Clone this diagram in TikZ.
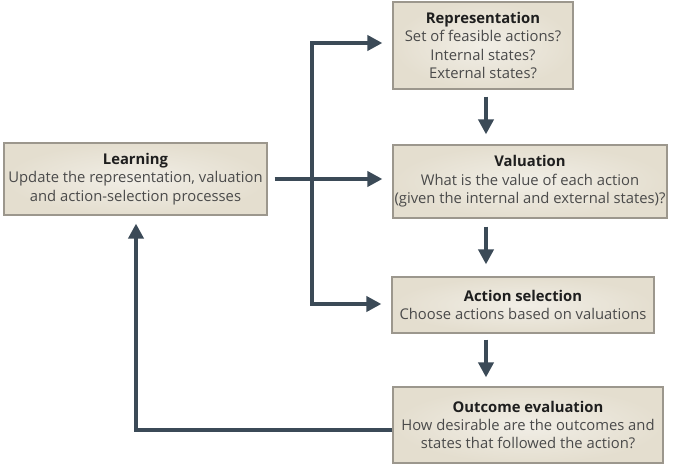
\documentclass[tikz,border=0pt]{standalone}
\usepackage{fontspec}
\setmainfont{Open Sans}
\usetikzlibrary{arrows.meta}
\definecolor{boxfill}{HTML}{E4DECF}
\definecolor{boxlight}{HTML}{F1EEE6}
\definecolor{boxdraw}{HTML}{9C978D}
\definecolor{arrowc}{HTML}{3B4A57}
\definecolor{txt}{HTML}{4A4A4A}
\definecolor{ttl}{HTML}{1E1E1E}
\newcommand{\btitle}[1]{{\bfseries\color{ttl}#1}}
\begin{document}
\begin{tikzpicture}[x=1pt,y=-1pt,
  box/.style={draw=boxdraw, line width=1.2pt, inner color=boxlight, outer color=boxfill,
    align=center, font=\fontsize{14.8}{18.4}\selectfont, text=txt, inner sep=0pt},
  arr/.style={draw=arrowc, line width=4pt, line join=miter,
    -{Triangle[length=15pt,width=15pt]}},
  arrb/.style={draw=arrowc, line width=4pt, line join=miter,
    {Triangle[length=15pt,width=15pt]}-{Triangle[length=15pt,width=15pt]}}]
\useasboundingbox (0,0) rectangle (675,468);
\node[box, minimum width=180pt, minimum height=87pt] (rep) at (483,45.5)
  {\btitle{Representation}\\Set of feasible actions?\\Internal states?\\External states?};
\node[box, minimum width=274pt, minimum height=73pt] (val) at (530,181.5)
  {\btitle{Valuation}\\What is the value of each action\\(given the internal and external states)?};
\node[box, minimum width=262pt, minimum height=56pt] (act) at (523,305)
  {\btitle{Action selection}\\Choose actions based on valuations};
\node[box, minimum width=270pt, minimum height=76pt] (out) at (528,425)
  {\btitle{Outcome evaluation}\\How desirable are the outcomes and\\states that followed the action?};
\node[box, minimum width=263pt, minimum height=72pt] (learn) at (135.5,179)
  {\btitle{Learning}\\Update the representation, valuation\\and action-selection processes};
\coordinate (tr) at (312,43);
\coordinate (br) at (312,304);
\coordinate (dx) at (486,0);
\coordinate (fb) at (136,430);
% learning to valuation
\draw[arr, shorten <=7pt, shorten >=10pt] (learn.east) -- (learn.east -| val.west);
% branch to representation and action selection
\draw[arrb, shorten <=10pt, shorten >=10pt] (rep.west |- tr) -- (tr) -- (br) -- (act.west |- br);
% downward arrows
\draw[arr, shorten <=7pt, shorten >=10pt] (rep.south -| dx) -- (val.north -| dx);
\draw[arr, shorten <=8pt, shorten >=12pt] (val.south -| dx) -- (act.north -| dx);
\draw[arr, shorten <=6pt, shorten >=9pt] (act.south -| dx) -- (out.north -| dx);
% feedback
\draw[arr, shorten >=8pt] (out.west |- fb) -- (fb) -- (learn.south -| fb);
\end{tikzpicture}
\end{document}
